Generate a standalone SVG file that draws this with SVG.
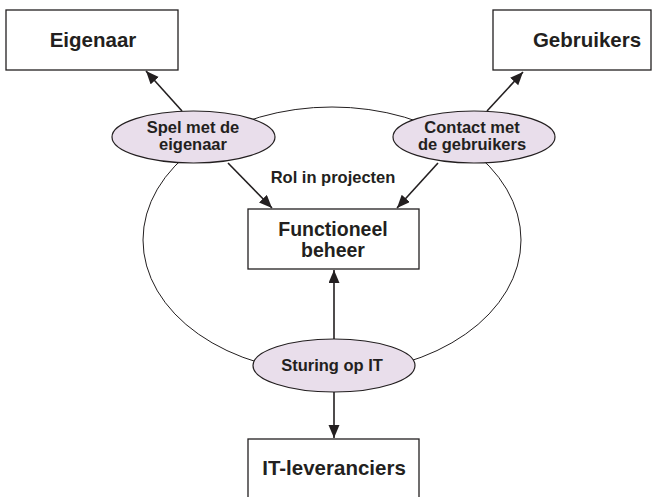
<svg xmlns="http://www.w3.org/2000/svg" width="656" height="497" viewBox="0 0 656 497">
<style>
.box{fill:#fff;stroke:#231f20;stroke-width:1.3}
.ell{fill:#e9deeb;stroke:#231f20;stroke-width:1.2}
.ring{fill:none;stroke:#231f20;stroke-width:1}
.con{stroke:#231f20;stroke-width:1.6;fill:none;marker-end:url(#ah)}
.t{font-family:"Liberation Sans",Arial,sans-serif;font-weight:bold;fill:#231f20;text-anchor:middle}
.tb{font-size:20.5px}
.tf{font-size:19.5px}
.te{font-size:16.5px}
</style>
<defs>
<marker id="ah" markerUnits="userSpaceOnUse" markerWidth="14" markerHeight="12" refX="13" refY="5.5" orient="auto">
<path d="M0,0 L13,5.5 L0,11 Z" fill="#231f20"/>
</marker>
</defs>
<rect width="656" height="497" fill="#fff"/>
<ellipse class="ring" cx="332" cy="240" rx="189" ry="133"/>
<g id="connectors">
<line class="con" x1="182" y1="111" x2="146" y2="71"/>
<line class="con" x1="487" y1="111" x2="523" y2="72"/>
<line class="con" x1="228" y1="163" x2="272" y2="208"/>
<line class="con" x1="438" y1="163" x2="397" y2="208"/>
<line class="con" x1="334" y1="339" x2="334" y2="270"/>
<line class="con" x1="334" y1="392" x2="334" y2="438"/>
</g>
<g id="eigenaar">
<rect class="box" x="6" y="10" width="172" height="60"/>
<text class="t tb" x="93" y="47">Eigenaar</text>
</g>
<g id="gebruikers">
<rect class="box" x="493" y="10" width="158" height="60"/>
<text class="t tb" x="587" y="47">Gebruikers</text>
</g>
<g id="spel">
<ellipse class="ell" cx="193.5" cy="137" rx="81.5" ry="26"/>
<text class="t te" x="193" y="133">Spel met de</text>
<text class="t te" x="193" y="150">eigenaar</text>
</g>
<g id="contact">
<ellipse class="ell" cx="474" cy="137" rx="81" ry="26"/>
<text class="t te" x="472" y="133">Contact met</text>
<text class="t te" x="472" y="150">de gebruikers</text>
</g>
<g id="rol">
<text class="t te" x="333" y="183">Rol in projecten</text>
</g>
<g id="functioneel">
<rect class="box" x="248" y="209" width="171" height="60"/>
<text class="t tf" x="333" y="236">Functioneel</text>
<text class="t tf" x="333" y="257">beheer</text>
</g>
<g id="sturing">
<ellipse class="ell" cx="334" cy="365.5" rx="81" ry="26.5"/>
<text class="t te" x="332" y="371">Sturing op IT</text>
</g>
<g id="it">
<rect class="box" x="248" y="439" width="171" height="70"/>
<text class="t tb" x="334" y="475">IT-leveranciers</text>
</g>
</svg>
